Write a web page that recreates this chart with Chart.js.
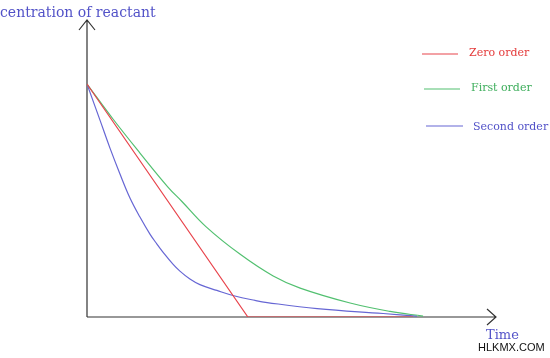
<!DOCTYPE html>
<html>
<head>
<meta charset="utf-8">
<script src="https://cdn.jsdelivr.net/npm/chart.js@4.4.1/dist/chart.umd.min.js"></script>
<style>
  html, body { margin: 0; padding: 0; background: #ffffff; }
  #wrap { width: 550px; height: 358px; position: relative; }
</style>
</head>
<body>
<div id="wrap"><canvas id="c" width="550" height="358"></canvas></div>
<script>
// ---- data ----
const seriesNames = ['Zero order', 'First order', 'Second order'];
const yAxisTitle = 'centration of reactant';
const xAxisTitle = 'Time';
const watermark = 'HLKMX.COM';

const zeroTime = [0, 4.83, 9.79];
const zeroConc = [100, 0, 0];

const firstTime = [0, 0.78, 1.59, 2.43, 2.85, 3.57, 4.59, 5.59, 6.40, 7.90, 9.10, 10.09];
const firstConc = [100, 85.0, 70.4, 55.8, 49.6, 38.8, 27.0, 17.6, 12.4, 6.0, 2.4, 0.4];

const secondTime = [0, 0.39, 0.69, 0.99, 1.29, 1.59, 1.89, 2.10, 2.28, 2.58, 2.79, 3.09, 3.39, 3.90, 4.44, 5.05, 5.41, 6.91, 8.89, 9.91];
const secondConc = [100, 84.5, 72.5, 61.4, 51.1, 42.9, 35.6, 31.3, 27.9, 22.7, 19.7, 16.3, 13.9, 11.4, 9.0, 7.1, 6.2, 3.6, 1.5, 0.4];

const lineColors = ['#e8444c', '#52c070', '#6666d4'];
const textColors = ['#e43a3a', '#3eae5c', '#5252c8'];

function pts(t, c) { return t.map((v, i) => ({ x: v, y: c[i] })); }

const axesPlugin = {
  id: 'axesArrows',
  beforeDatasetsDraw(chart) {
    const ctx = chart.ctx;
    const xs = chart.scales.x, ys = chart.scales.y;
    const x0 = xs.getPixelForValue(0), y0 = ys.getPixelForValue(0);
    const xEnd = xs.getPixelForValue(xs.max), yEnd = ys.getPixelForValue(ys.max);
    ctx.save();
    ctx.strokeStyle = '#333333';
    ctx.lineWidth = 1.2;
    ctx.beginPath();
    ctx.moveTo(x0, y0); ctx.lineTo(x0, yEnd);
    ctx.moveTo(x0, y0); ctx.lineTo(xEnd, y0);
    // arrow heads
    ctx.moveTo(x0 - 8, yEnd + 10); ctx.lineTo(x0, yEnd); ctx.lineTo(x0 + 8, yEnd + 10);
    ctx.moveTo(xEnd - 9, y0 - 8); ctx.lineTo(xEnd, y0); ctx.lineTo(xEnd - 9, y0 + 8);
    ctx.stroke();
    ctx.restore();
  },
  afterDraw(chart) {
    const ctx = chart.ctx;
    ctx.save();
    ctx.textBaseline = 'middle';
    ctx.font = '14px "DejaVu Serif"';
    ctx.fillStyle = '#5252c8';
    ctx.textAlign = 'left';
    ctx.fillText(yAxisTitle, 0, 13);
    ctx.font = '13px "DejaVu Serif"';
    ctx.fillText(xAxisTitle, 486, 336);
    ctx.font = '11px "Liberation Sans"';
    ctx.fillStyle = '#111111';
    ctx.fillText(watermark, 478, 348);
    const legendPos = [
      { x1: 422, x2: 458, y: 54, tx: 469, ty: 53 },
      { x1: 424, x2: 460, y: 89, tx: 471, ty: 88 },
      { x1: 426, x2: 463, y: 126, tx: 473, ty: 127 }
    ];
    ctx.font = '11px "DejaVu Serif"';
    chart.data.datasets.forEach((ds, i) => {
      const p = legendPos[i];
      ctx.strokeStyle = ds.borderColor;
      ctx.lineWidth = 1.2;
      ctx.beginPath();
      ctx.moveTo(p.x1, p.y); ctx.lineTo(p.x2, p.y);
      ctx.stroke();
      ctx.fillStyle = textColors[i];
      ctx.fillText(ds.label, p.tx, p.ty);
    });
    ctx.restore();
  }
};

new Chart(document.getElementById('c'), {
  type: 'line',
  data: {
    datasets: [
      { label: seriesNames[0], data: pts(zeroTime, zeroConc), borderColor: lineColors[0], tension: 0 },
      { label: seriesNames[1], data: pts(firstTime, firstConc), borderColor: lineColors[1], tension: 0.4 },
      { label: seriesNames[2], data: pts(secondTime, secondConc), borderColor: lineColors[2], tension: 0.4 }
    ]
  },
  options: {
    responsive: false,
    animation: false,
    devicePixelRatio: 1,
    layout: { padding: { left: 87, right: 54, top: 20, bottom: 41 } },
    elements: { point: { radius: 0 }, line: { borderWidth: 1.2, fill: false } },
    scales: {
      x: { type: 'linear', min: 0, max: 12.28, display: false },
      y: { type: 'linear', min: 0, max: 127.5, display: false }
    },
    plugins: { legend: { display: false }, tooltip: { enabled: false }, title: { display: false } }
  },
  plugins: [axesPlugin]
});
</script>
</body>
</html>
